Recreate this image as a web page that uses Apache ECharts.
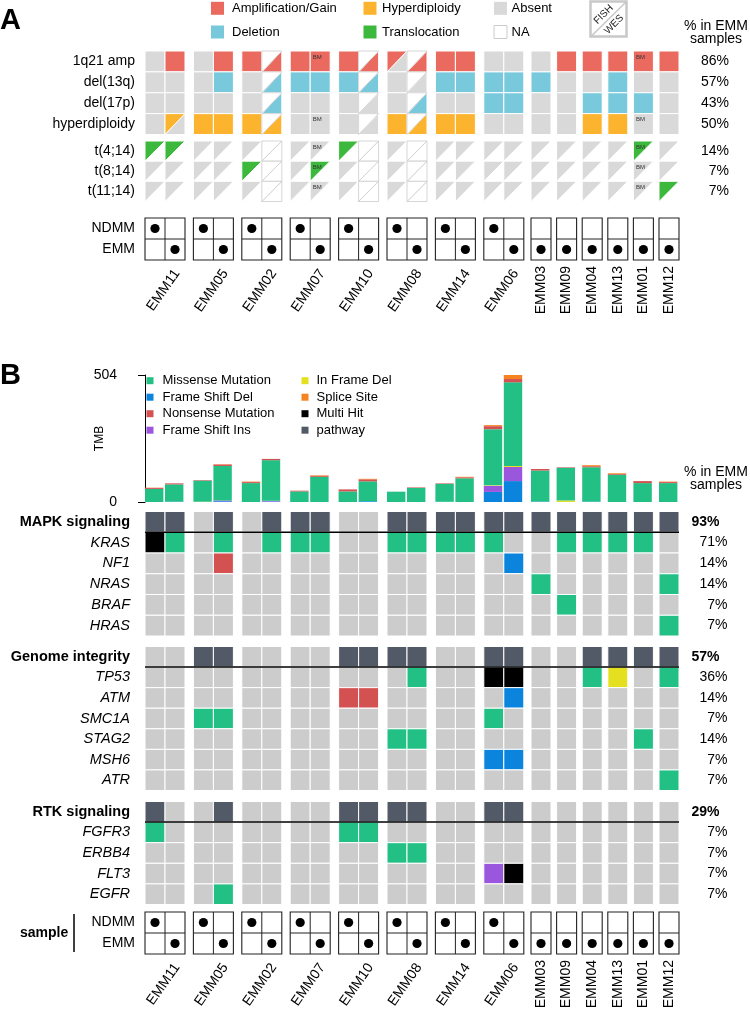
<!DOCTYPE html>
<html>
<head>
<meta charset="utf-8">
<title>EMM oncoprint</title>
<script src="https://cdn.jsdelivr.net/npm/echarts@6.0.0/dist/echarts.min.js"></script>
<style>
html,body{margin:0;padding:0;background:#ffffff;}
#chart{width:750px;height:1021px;}
</style>
</head>
<body>
<div id="chart"></div>
<script>
// ================= DATA =================
const samples = ['EMM11','EMM05','EMM02','EMM07','EMM10','EMM08','EMM14','EMM06','EMM03','EMM09','EMM04','EMM13','EMM01','EMM12'];
const hasNDMM = [1,1,1,1,1,1,1,1,0,0,0,0,0,0];
// columns: for paired samples NDMM then EMM; otherwise EMM only (22 columns)

// ---- Panel A (FISH / WES) ----
// codes: g absent, r amplification/gain, b deletion, o hyperdiploidy, G translocation, n NA
// two letters = FISH (upper-left triangle) / WES (lower-right triangle)
const cnvRows = ['1q21 amp','del(13q)','del(17p)','hyperdiploidy'];
const cnvPct  = ['86%','57%','43%','50%'];
const amp1q21 = ['g','r', 'g','r', 'r','nr', 'r','r', 'r','nr', 'rg','nr', 'r','r', 'g','g', 'g','r','r','r','r','r'];
const del13q  = ['g','g', 'g','b', 'g','nb', 'b','b', 'b','nb', 'g','ng', 'b','b', 'b','b', 'b','g','g','b','g','g'];
const del17p  = ['g','g', 'g','g', 'g','nb', 'g','g', 'g','ng', 'g','nb', 'g','g', 'b','b', 'g','g','b','b','b','g'];
const hyperd  = ['g','og','o','o', 'o','no', 'g','g', 'g','ng', 'o','no', 'o','o', 'g','g', 'g','g','o','o','g','g'];
const transRows = ['t(4;14)','t(8;14)','t(11;14)'];
const transPct  = ['14%','7%','7%'];
const t4_14  = ['Gn','Gn','gn','gn','gn','nn','gn','gn','Gn','nn','gn','nn','gn','gn','gn','gn','gn','gn','gn','gn','Gn','gn'];
const t8_14  = ['gn','gn','gn','gn','Gn','nn','gn','Gn','gn','nn','gn','nn','gn','gn','gn','gn','gn','gn','gn','gn','gn','gn'];
const t11_14 = ['gn','gn','gn','gn','gn','nn','gn','gn','gn','nn','gn','nn','gn','gn','gn','gn','gn','gn','gn','gn','gn','Gn'];
const bmColumns = [7, 20];
const bmRows = ['1q21 amp','hyperdiploidy','t(4;14)','t(8;14)','t(11;14)'];

// ---- Panel B (mutations) ----
// codes: . none, P pathway, M missense, D frame shift del, N nonsense, I frame shift ins, F in frame del, S splice, H multi hit
const mapkRows = ['MAPK signaling','KRAS','NF1','NRAS','BRAF','HRAS'];
const mapkPct  = ['93%','71%','14%','14%','7%','7%'];
const mapkPath = ['P','P','.','P','.','P','P','P','.','.','P','P','P','P','P','P','P','P','P','P','P','P'];
const KRAS     = ['H','M','.','M','.','M','M','M','.','.','M','M','M','M','M','.','.','M','M','M','M','.'];
const NF1      = ['.','.','.','N','.','.','.','.','.','.','.','.','.','.','.','D','.','.','.','.','.','.'];
const NRAS     = ['.','.','.','.','.','.','.','.','.','.','.','.','.','.','.','.','M','.','.','.','.','M'];
const BRAF     = ['.','.','.','.','.','.','.','.','.','.','.','.','.','.','.','.','.','M','.','.','.','.'];
const HRAS     = ['.','.','.','.','.','.','.','.','.','.','.','.','.','.','.','.','.','.','.','.','.','M'];
const genomeRows = ['Genome integrity','TP53','ATM','SMC1A','STAG2','MSH6','ATR'];
const genomePct  = ['57%','36%','14%','7%','14%','7%','7%'];
const genomePath = ['.','.','P','P','.','.','.','.','P','P','P','P','.','.','P','P','.','.','P','P','P','P'];
const TP53     = ['.','.','.','.','.','.','.','.','.','.','.','M','.','.','H','H','.','.','M','F','.','M'];
const ATM      = ['.','.','.','.','.','.','.','.','N','N','.','.','.','.','.','D','.','.','.','.','.','.'];
const SMC1A    = ['.','.','M','M','.','.','.','.','.','.','.','.','.','.','M','.','.','.','.','.','.','.'];
const STAG2    = ['.','.','.','.','.','.','.','.','.','.','M','M','.','.','.','.','.','.','.','.','M','.'];
const MSH6     = ['.','.','.','.','.','.','.','.','.','.','.','.','.','.','D','D','.','.','.','.','.','.'];
const ATR      = ['.','.','.','.','.','.','.','.','.','.','.','.','.','.','.','.','.','.','.','.','.','M'];
const rtkRows = ['RTK signaling','FGFR3','ERBB4','FLT3','EGFR'];
const rtkPct  = ['29%','7%','7%','7%','7%'];
const rtkPath = ['P','.','.','P','.','.','.','.','P','P','P','P','.','.','P','P','.','.','.','.','.','.'];
const FGFR3   = ['M','.','.','.','.','.','.','.','M','M','.','.','.','.','.','.','.','.','.','.','.','.'];
const ERBB4   = ['.','.','.','.','.','.','.','.','.','.','M','M','.','.','.','.','.','.','.','.','.','.'];
const FLT3    = ['.','.','.','.','.','.','.','.','.','.','.','.','.','.','I','H','.','.','.','.','.','.'];
const EGFR    = ['.','.','.','M','.','.','.','.','.','.','.','.','.','.','.','.','.','.','.','.','.','.'];

// ---- TMB stacked bars (per column) ----
const tmbTicks = [0, 504];
const tmbFrameShiftDel = [0,2,0,3,0,2,0,0,0,3,0,0,1,0,40,83,2,0,2,0,0,0];
const tmbFrameShiftIns = [0,0,0,3,0,3,0,0,0,0,0,0,0,0,24,56,0,0,0,0,0,0];
const tmbInFrameDel    = [0,0,1,0,0,0,0,0,0,0,0,0,0,0,2,4,0,6,0,0,0,0];
const tmbMissense      = [52,68,84,137,75,161,42,100,42,79,41,56,71,94,223,332,123,130,136,108,75,75];
const tmbNonsense      = [4,4,2,6,4,5,3,4,8,8,0,2,2,4,12,13,6,2,4,3,8,4];
const tmbSplice        = [1,0,0,1,2,0,0,2,0,2,0,0,0,2,4,16,0,0,4,3,0,2];

// ================= STYLE =================
const FONT = '"Liberation Sans", Arial, Helvetica, sans-serif';
const COL_A = {g:'#D9D9D9', r:'#EB6A5F', b:'#79C9DD', o:'#FCB42E', G:'#3CB83D', n:'#FFFFFF'};
const COL_B = {'.':'#CCCCCC', P:'#535A67', M:'#22C084', D:'#0A84DD', N:'#D45152', I:'#9A56DC', F:'#E5E01F', S:'#F5831F', H:'#000000'};
const tmbLayers = [
  {name:'Frame Shift Del', values:tmbFrameShiftDel, color:COL_B.D},
  {name:'Frame Shift Ins', values:tmbFrameShiftIns, color:COL_B.I},
  {name:'In Frame Del', values:tmbInFrameDel, color:COL_B.F},
  {name:'Missense Mutation', values:tmbMissense, color:COL_B.M},
  {name:'Nonsense Mutation', values:tmbNonsense, color:COL_B.N},
  {name:'Splice Site', values:tmbSplice, color:COL_B.S}
];

// ================= LAYOUT (column positions in axis units) =================
const PAIR_GAP = 0.42, SWITCH_GAP = 0.36, SINGLE_GAP = 0.28;
const colX = [];
const sampleSpan = [];
(function(){
  let x = 0;
  samples.forEach((s, i) => {
    if (i > 0) {
      if (hasNDMM[i]) x += PAIR_GAP;
      else if (hasNDMM[i-1]) x += SWITCH_GAP;
      else x += SINGLE_GAP;
    }
    const n = hasNDMM[i] ? 2 : 1;
    sampleSpan.push([x, n]);
    for (let k = 0; k < n; k++) colX.push(x + k);
    x += n;
  });
  window.XMAX = x;
})();

const GL = 145, GW = 534;
const grids = [], xAxes = [], yAxes = [], series = [];

function addGrid(top, height) {
  grids.push({left: GL, top: top, width: GW, height: height, containLabel: false, outerBoundsMode: 'none'});
  const gi = grids.length - 1;
  xAxes.push({type: 'value', gridIndex: gi, min: 0, max: XMAX, show: false});
  return gi;
}
function catAxis(gi, data, label, extra) {
  yAxes.push(Object.assign({
    type: 'category', gridIndex: gi, data: data, inverse: true,
    axisLine: {show: false}, axisTick: {show: false}, splitLine: {show: false},
    axisLabel: Object.assign({interval: 0, fontSize: 14, color: '#000', fontFamily: FONT}, label)
  }, extra || {}));
  return yAxes.length - 1;
}

function cellBox(api, x, row) {
  const c = api.coord([x, row]);
  const sz = api.size([1, 1]);
  return {x0: c[0], x1: c[0] + sz[0], y0: c[1] - sz[1] / 2, y1: c[1] + sz[1] / 2, w: sz[0], h: sz[1]};
}

// ---- Panel A heatmap ----
function heatA(top, height, rows, pct, arrays) {
  const gi = addGrid(top, height);
  const yi = catAxis(gi, rows, {margin: 10});
  catAxis(gi, pct, {margin: 50, align: 'right'}, {position: 'right'});
  const items = [];
  arrays.forEach((arr, r) => arr.forEach((code, c) => items.push({
    x: colX[c], row: r, code: code, bm: bmColumns.indexOf(c) >= 0 && bmRows.indexOf(rows[r]) >= 0
  })));
  series.push({
    type: 'custom', xAxisIndex: gi, yAxisIndex: yi, clip: false, silent: true, animation: false,
    data: items.map(it => [it.x, it.row]), encode: {x: 0, y: 1},
    renderItem: function(params, api) {
      const it = items[params.dataIndex];
      const b = cellBox(api, it.x, it.row);
      const ch = [];
      if (it.code.length === 1) {
        ch.push({type: 'rect', shape: {x: b.x0, y: b.y0, width: b.w, height: b.h},
                 style: {fill: COL_A[it.code], stroke: '#fff', lineWidth: 1}});
      } else {
        const f = it.code[0], w = it.code[1];
        const up = [[b.x0, b.y0], [b.x1, b.y0], [b.x0, b.y1]];
        const lo = [[b.x1, b.y0], [b.x1, b.y1], [b.x0, b.y1]];
        const sty = (code, outline) => code === 'n'
          ? {fill: '#fff', stroke: outline ? '#cccccc' : null, lineWidth: 0.8}
          : {fill: COL_A[code], stroke: '#fff', lineWidth: 1};
        ch.push({type: 'polygon', shape: {points: lo}, style: sty(w, f === 'n')});
        ch.push({type: 'polygon', shape: {points: up}, style: sty(f, true)});
      }
      if (it.bm) {
        ch.push({type: 'text', x: b.x0 + 7, y: b.y0 + 6,
                 style: {text: 'BM', fontSize: 6, fontFamily: FONT, fill: '#333', align: 'center', verticalAlign: 'middle'}});
      }
      return {type: 'group', children: ch};
    }
  });
}

// ---- Panel B heatmap ----
function heatB(top, height, rows, pct, arrays) {
  const gi = addGrid(top, height);
  const yi = catAxis(gi, rows, {
    margin: 15, fontSize: 14.5,
    formatter: (v, i) => (i === 0 ? '{p|' + v + '}' : '{g|' + v + '}'),
    rich: {p: {fontWeight: 'bold', fontSize: 14.5, fontFamily: FONT, color: '#000'},
           g: {fontStyle: 'italic', fontSize: 14.5, fontFamily: FONT, color: '#000'}}
  });
  catAxis(gi, pct, {
    margin: 48.5, align: 'right',
    formatter: (v, i) => (i === 0 ? '{p|' + v + '}' : '{n|' + v + '}'),
    rich: {p: {fontWeight: 'bold', fontSize: 14, fontFamily: FONT, color: '#000', padding: [0, 8, 0, 0]},
           n: {fontSize: 14, fontFamily: FONT, color: '#000'}}
  }, {position: 'right'});
  const items = [];
  arrays.forEach((arr, r) => arr.forEach((code, c) => items.push({x: colX[c], row: r, code: code})));
  series.push({
    type: 'custom', xAxisIndex: gi, yAxisIndex: yi, clip: false, silent: true, animation: false,
    data: items.map(it => [it.x, it.row]), encode: {x: 0, y: 1},
    renderItem: function(params, api) {
      const it = items[params.dataIndex];
      const b = cellBox(api, it.x, it.row);
      return {type: 'rect', shape: {x: b.x0, y: b.y0, width: b.w, height: b.h},
              style: {fill: COL_B[it.code], stroke: '#fff', lineWidth: 1}};
    }
  });
  // separator line under the pathway row
  series.push({
    type: 'custom', xAxisIndex: gi, yAxisIndex: yi, clip: false, silent: true, animation: false,
    data: [[0, 0]], encode: {x: 0, y: 1},
    renderItem: function(params, api) {
      const a = cellBox(api, 0, 0), z = cellBox(api, XMAX, 0);
      return {type: 'line', shape: {x1: a.x0, y1: a.y1, x2: z.x0, y2: a.y1},
              style: {stroke: '#000', lineWidth: 1.5}};
    }
  });
}

// ---- sample boxes + names ----
function sampleBlock(top, height) {
  const gi = addGrid(top, height);
  const yi = catAxis(gi, ['NDMM', 'EMM'], {margin: 10});
  series.push({
    type: 'custom', xAxisIndex: gi, yAxisIndex: yi, clip: false, silent: true, animation: false,
    data: sampleSpan.map(s => [s[0], 0]), encode: {x: 0, y: 1},
    renderItem: function(params, api) {
      const i = params.dataIndex;
      const left = sampleSpan[i][0], n = sampleSpan[i][1];
      const b = cellBox(api, left, 0);
      const w = b.w * n, h = b.h * 2;
      const ch = [];
      const ls = {stroke: '#222', lineWidth: 1, fill: null};
      ch.push({type: 'rect', shape: {x: b.x0, y: b.y0, width: w, height: h}, style: {stroke: '#222', lineWidth: 1.1, fill: null}});
      ch.push({type: 'line', shape: {x1: b.x0, y1: b.y1, x2: b.x0 + w, y2: b.y1}, style: ls});
      const r = 4.6;
      if (n === 2) {
        ch.push({type: 'line', shape: {x1: b.x0 + b.w, y1: b.y0, x2: b.x0 + b.w, y2: b.y0 + h}, style: ls});
        ch.push({type: 'circle', shape: {cx: b.x0 + b.w / 2, cy: b.y0 + b.h / 2, r: r}, style: {fill: '#000'}});
        ch.push({type: 'circle', shape: {cx: b.x0 + 1.5 * b.w, cy: b.y0 + 1.5 * b.h, r: r}, style: {fill: '#000'}});
        ch.push({type: 'text', x: b.x0 + b.w + 12, y: b.y0 + h + 11, rotation: 55 * Math.PI / 180,
                 style: {text: samples[i], fontSize: 14, fontFamily: FONT, fill: '#000', align: 'right', verticalAlign: 'middle'}});
      } else {
        ch.push({type: 'circle', shape: {cx: b.x0 + b.w / 2, cy: b.y0 + 1.5 * b.h, r: r}, style: {fill: '#000'}});
        ch.push({type: 'text', x: b.x0 + b.w / 2, y: b.y0 + h + 6, rotation: Math.PI / 2,
                 style: {text: samples[i], fontSize: 14, fontFamily: FONT, fill: '#000', align: 'right', verticalAlign: 'middle'}});
      }
      return {type: 'group', children: ch};
    }
  });
}

// ---- TMB bars ----
function tmbBlock(top, height) {
  const gi = addGrid(top, height);
  yAxes.push({
    type: 'value', gridIndex: gi, min: tmbTicks[0], max: tmbTicks[1], interval: tmbTicks[1] - tmbTicks[0],
    offset: 12, name: 'TMB', nameLocation: 'middle', nameGap: 27, nameRotate: 90, nameMoveOverlap: false,
    nameTextStyle: {fontSize: 12, fontFamily: FONT, color: '#000'},
    axisLine: {show: true, lineStyle: {color: '#000', width: 1}},
    axisTick: {show: true, length: 7, lineStyle: {color: '#000'}},
    splitLine: {show: false},
    axisLabel: {fontSize: 14, fontFamily: FONT, color: '#000', margin: 16}
  });
  const yi = yAxes.length - 1;
  series.push({
    type: 'custom', xAxisIndex: gi, yAxisIndex: yi, clip: false, silent: true, animation: false,
    data: colX.map(x => [x, 0]), encode: {x: 0, y: 1},
    renderItem: function(params, api) {
      const i = params.dataIndex, x = colX[i];
      let cum = 0;
      const ch = [];
      tmbLayers.forEach(L => {
        const v = L.values[i];
        if (!v) return;
        const p0 = api.coord([x, cum]), p1 = api.coord([x + 0.92, cum + v]);
        ch.push({type: 'rect', shape: {x: p0[0], y: p1[1], width: p1[0] - p0[0], height: p0[1] - p1[1]},
                 style: {fill: L.color}});
        cum += v;
      });
      return {type: 'group', children: ch};
    }
  });
}

// ================= BUILD =================
heatA(51, 83.5, cnvRows, cnvPct, [amp1q21, del13q, del17p, hyperd]);
heatA(141, 60.5, transRows, transPct, [t4_14, t8_14, t11_14]);
sampleBlock(218, 42);
tmbBlock(375, 127);
heatB(511.5, 124.5, mapkRows, mapkPct, [mapkPath, KRAS, NF1, NRAS, BRAF, HRAS]);
heatB(646.5, 144, genomeRows, genomePct, [genomePath, TP53, ATM, SMC1A, STAG2, MSH6, ATR]);
heatB(801.5, 103, rtkRows, rtkPct, [rtkPath, FGFR3, ERBB4, FLT3, EGFR]);
sampleBlock(912, 42);

// ---- graphic: panel letters, legends, headers ----
const gfx = [];
function gText(x, y, text, st, extra) {
  gfx.push(Object.assign({type: 'text', x: x, y: y, silent: true,
    style: Object.assign({text: text, fill: '#000', fontFamily: FONT, fontSize: 13, align: 'left', verticalAlign: 'middle'}, st || {})}, extra || {}));
}
function gRect(x, y, w, h, fill, stroke, lw) {
  gfx.push({type: 'rect', silent: true, shape: {x: x, y: y, width: w, height: h},
            style: {fill: fill, stroke: stroke || null, lineWidth: lw || 1}});
}
gText(0, 21, 'A', {fontSize: 29, fontWeight: 'bold'});
gText(0, 376, 'B', {fontSize: 29, fontWeight: 'bold'});

const legendA = [
  {label: 'Amplification/Gain', code: 'r', sx: 211, tx: 232, y: 8.3},
  {label: 'Hyperdiploidy', code: 'o', sx: 363.5, tx: 382, y: 8.3},
  {label: 'Absent', code: 'g', sx: 494, tx: 511.5, y: 8.3},
  {label: 'Deletion', code: 'b', sx: 211, tx: 232, y: 32},
  {label: 'Translocation', code: 'G', sx: 363.5, tx: 382, y: 32},
  {label: 'NA', code: 'n', sx: 494, tx: 511.5, y: 32}
];
legendA.forEach(L => {
  gRect(L.sx, L.y - 6.5, 13, 13, COL_A[L.code], L.code === 'n' ? '#cccccc' : null, 1);
  gText(L.tx, L.y, L.label, {fontSize: 13});
});
// FISH / WES key
gRect(590.5, 1.5, 36, 35, '#fff', '#c8c8c8', 2.5);
gfx.push({type: 'line', silent: true, shape: {x1: 591, y1: 36.5, x2: 626.5, y2: 1.5}, style: {stroke: '#c8c8c8', lineWidth: 1.5}});
gText(603.5, 14.5, 'FISH', {fontSize: 10, align: 'center', fill: '#222'}, {rotation: Math.PI / 4});
gText(614, 24.5, 'WES', {fontSize: 10, align: 'center', fill: '#222'}, {rotation: Math.PI / 4});

gText(716, 26, '% in EMM', {fontSize: 14, align: 'center'});
gText(716, 39, 'samples', {fontSize: 14, align: 'center'});
gText(716, 472.5, '% in EMM', {fontSize: 14, align: 'center'});
gText(716, 485, 'samples', {fontSize: 14, align: 'center'});

const legendB = [
  {label: 'Missense Mutation', code: 'M', col: 0, row: 0},
  {label: 'Frame Shift Del', code: 'D', col: 0, row: 1},
  {label: 'Nonsense Mutation', code: 'N', col: 0, row: 2},
  {label: 'Frame Shift Ins', code: 'I', col: 0, row: 3},
  {label: 'In Frame Del', code: 'F', col: 1, row: 0},
  {label: 'Splice Site', code: 'S', col: 1, row: 1},
  {label: 'Multi Hit', code: 'H', col: 1, row: 2},
  {label: 'pathway', code: 'P', col: 1, row: 3}
];
legendB.forEach(L => {
  const sx = L.col ? 301.5 : 146.5, tx = L.col ? 316.5 : 162.5;
  const y = 380.7 + L.row * 16.5;
  gRect(sx, y - 3.5, 7, 7, COL_B[L.code]);
  gText(tx, y, L.label, {fontSize: 13});
});
gText(20, 933, 'sample', {fontSize: 14, fontWeight: 'bold'});
gfx.push({type: 'line', silent: true, shape: {x1: 74, y1: 914, x2: 74, y2: 952}, style: {stroke: '#000', lineWidth: 1.5}});

const chart = echarts.init(document.getElementById('chart'), null, {renderer: 'canvas'});
chart.setOption({
  animation: false,
  backgroundColor: '#ffffff',
  textStyle: {fontFamily: FONT},
  grid: grids,
  xAxis: xAxes,
  yAxis: yAxes,
  series: series,
  graphic: {elements: gfx}
});
</script>
</body>
</html>
